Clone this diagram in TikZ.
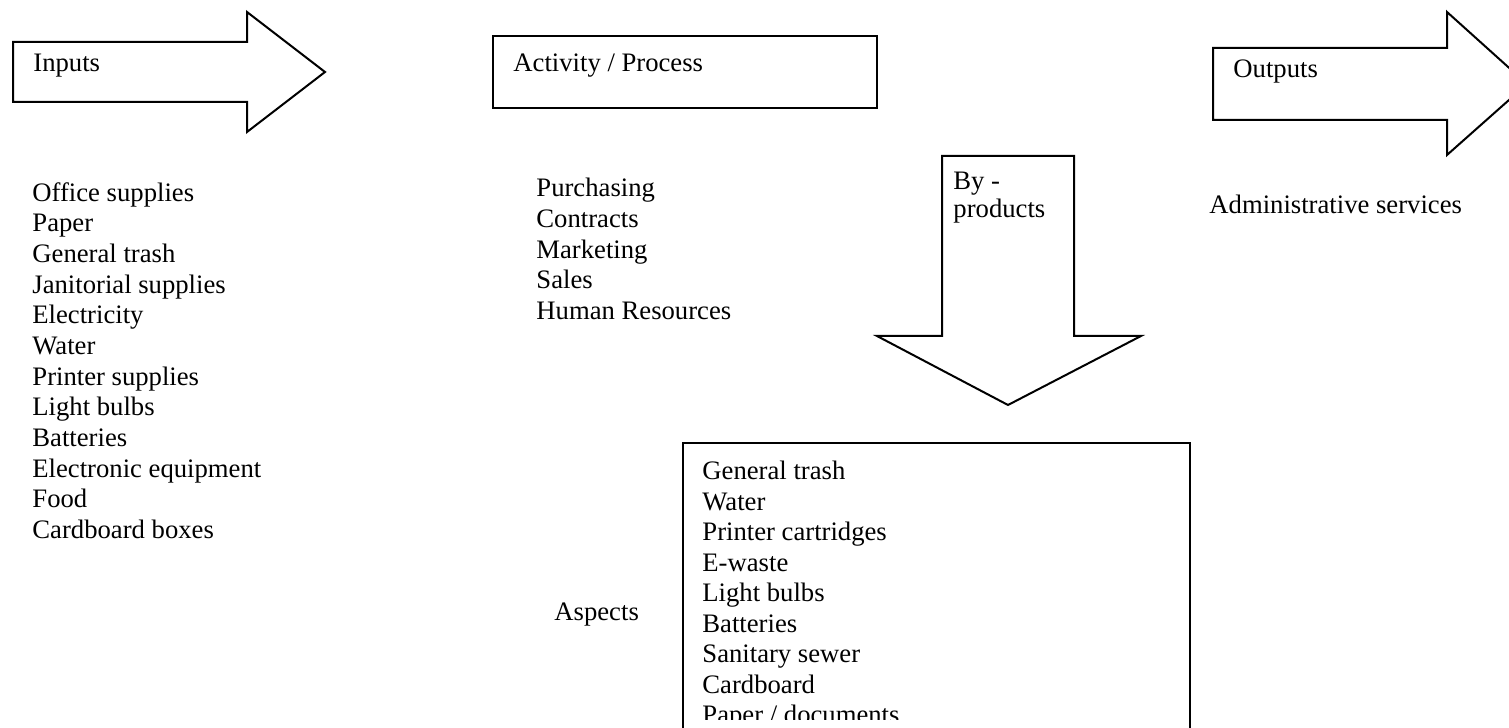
\documentclass[tikz,border=0pt]{standalone}
\usepackage{fontspec}
\setmainfont{Liberation Serif}
\begin{document}
\begin{tikzpicture}[
    x=0.45pt, y=-0.45pt,
    outline/.style={draw, line width=0.9pt, line join=miter, fill=white},
    caption/.style={anchor=base west, inner sep=0pt, font=\fontsize{12}{13.8}\selectfont},
    itemlist/.style={anchor=north west, inner sep=0pt, align=left, font=\fontsize{12}{13.8}\selectfont}
]
    \useasboundingbox (0,0) rectangle (1509,728);
    \clip (0,0) rectangle (1509,728);

    % block arrows and boxes
    \draw[outline] (13,42) -- (247,42) -- (247,12) -- (325,72) -- (247,132) -- (247,102) -- (13,102) -- cycle;
    \draw[outline, line width=1.3pt] (493,36) rectangle (877,108);
    \draw[outline] (1213,48) -- (1447,48) -- (1447,12) -- (1527,84) -- (1447,155) -- (1447,120) -- (1213,120) -- cycle;
    \draw[outline] (942,156) -- (1074,156) -- (1074,336) -- (1141,336) -- (1008,405) -- (877,336) -- (942,336) -- cycle;
    \draw[line width=1pt] (683,760) -- (683,443) -- (1190,443) -- (1190,760);
    \draw[line width=1.3pt] (683,443) -- (1188,443);

    \node[caption] (inputs) at (33,72) {Inputs};
    \node[caption] (activity) at (513,72) {Activity / Process};
    \node[caption] (outputs) at (1233,78) {Outputs};
    \node[itemlist, font=\fontsize{12}{12.6}\selectfont] (byprod) at (953,172) {By -\\products};

    \node[itemlist] (inlist) at (32,182) {Office supplies\\Paper\\General trash\\Janitorial supplies\\Electricity\\Water\\Printer supplies\\Light bulbs\\Batteries\\Electronic equipment\\Food\\Cardboard boxes};
    \node[itemlist] (proclist) at (536,178) {Purchasing\\Contracts\\Marketing\\Sales\\Human Resources};
    \node[caption] (admin) at (1209,214) {Administrative services};

    \node[caption] (aspects) at (554,621) {Aspects};
    % the last line is cut by the box
    \begin{scope}
        \clip (683,443) rectangle (1190,720);
        \node[itemlist, font=\fontsize{12}{13.7}\selectfont] (aspectlist) at (702,461) {General trash\\Water\\Printer cartridges\\E-waste\\Light bulbs\\Batteries\\Sanitary sewer\\Cardboard\\Paper / documents};
    \end{scope}
\end{tikzpicture}
\end{document}
